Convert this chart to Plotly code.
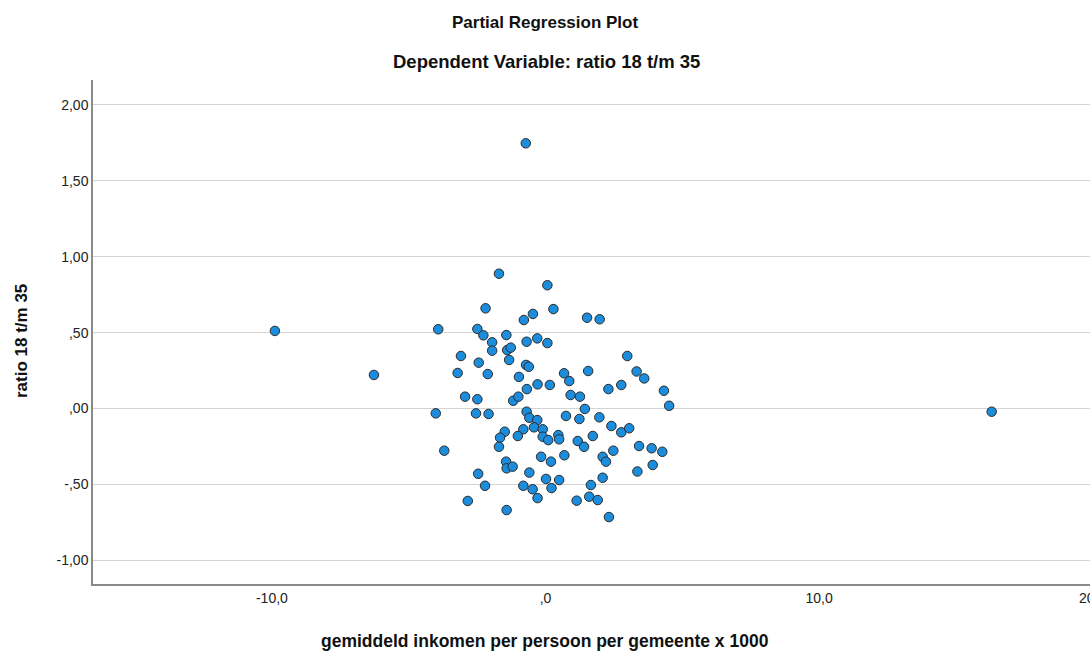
import plotly.graph_objects as go

# Partial regression residuals
income_resid = [
    -0.72, -1.70, 0.07, -2.19, 0.29, -0.79, -0.46, 1.52, 1.98, -9.89,
    -3.92, -2.49, -2.27, -1.43, -1.95, -0.69, -0.30, 0.07, -1.95, -1.40,
    -1.27, -1.33, -3.09, 2.99, -2.44, -0.71, -0.61, -3.21, -2.11, -0.97,
    0.68, 1.56, 3.33, 3.61, 0.87, -6.27, -0.68, -0.29, 0.16, 2.30,
    2.77, 4.33, -2.94, -2.49, -1.18, -0.99, 0.92, 1.26, 4.52, 1.44,
    -4.01, -2.54, -2.08, -0.69, -0.59, -0.30, 0.75, 1.24, 1.97, 16.31,
    -1.49, -1.66, -0.81, -0.42, -0.10, -1.01, -0.10, 0.10, 0.47, 0.50,
    1.18, 1.41, 1.73, 2.41, 2.77, 3.06, -1.70, -3.70, -0.16, 0.20,
    0.69, -1.44, -1.42, -1.20, -0.59, -2.46, -2.21, -0.81, -0.47, -0.29,
    0.02, 0.22, 0.50, -2.84, -1.42, 1.14, 1.60, 1.91, 1.66, 2.09,
    2.32, 3.36, 2.48, 2.09, 2.21, 3.42, 3.88, 4.27, 3.92,
]
ratio_resid = [
    1.747, 0.888, 0.812, 0.660, 0.655, 0.583, 0.623, 0.598, 0.588, 0.511,
    0.522, 0.524, 0.482, 0.484, 0.436, 0.440, 0.462, 0.431, 0.381, 0.385,
    0.401, 0.320, 0.346, 0.346, 0.302, 0.287, 0.275, 0.234, 0.227, 0.208,
    0.232, 0.247, 0.244, 0.198, 0.181, 0.221, 0.128, 0.159, 0.155, 0.128,
    0.155, 0.117, 0.078, 0.061, 0.051, 0.078, 0.089, 0.078, 0.018, -0.003,
    -0.032, -0.032, -0.036, -0.021, -0.061, -0.076, -0.049, -0.069, -0.058, -0.021,
    -0.153, -0.192, -0.137, -0.124, -0.137, -0.181, -0.186, -0.208, -0.175, -0.203,
    -0.214, -0.252, -0.181, -0.115, -0.157, -0.130, -0.252, -0.278, -0.318, -0.350,
    -0.308, -0.350, -0.394, -0.383, -0.422, -0.430, -0.509, -0.509, -0.532, -0.590,
    -0.464, -0.524, -0.471, -0.609, -0.669, -0.607, -0.581, -0.603, -0.504, -0.456,
    -0.715, -0.415, -0.278, -0.318, -0.350, -0.247, -0.262, -0.285, -0.372,
]

x_tickvals = [-10, 0, 10, 20]
x_ticktext = ["-10,0", ",0", "10,0", "20,0"]
y_tickvals = [2.0, 1.5, 1.0, 0.5, 0.0, -0.5, -1.0]
y_ticktext = ["2,00", "1,50", "1,00", ",50", ",00", "-,50", "-1,00"]

title_main = "Partial Regression Plot"
title_sub = "Dependent Variable: ratio 18 t/m 35"
x_title = "gemiddeld inkomen per persoon per gemeente x 1000"
y_title = "ratio 18 t/m 35"

FONT = "Liberation Sans, Arial, sans-serif"

# figure geometry in page pixels (body margin removed below);
# the plot runs slightly past the window's right edge, as in the reference
W, H = 1100, 661
ML, MR, MT, MB = 93, 0, 80, 77
PW, PH = W - ML - MR, H - MT - MB


def px(xf):
    return (xf - ML) / PW


def py(yf):
    return (H - MB - yf) / PH


fig = go.Figure()
fig.add_trace(go.Scatter(
    x=income_resid, y=ratio_resid, mode="markers",
    marker=dict(size=9.5, color="#1c8ddc", line=dict(color="#2b2b2b", width=1)),
    hoverinfo="x+y", showlegend=False,
))


def tfont(size):
    return dict(family=FONT, size=size, color="#111111")


fig.update_layout(
    width=W, height=H,
    margin=dict(l=ML, r=MR, t=MT, b=MB, autoexpand=False),
    paper_bgcolor="white", plot_bgcolor="white",
    font=dict(family=FONT, size=14, color="#222222"),
    xaxis=dict(
        range=[-16.54, 20.27], tickvals=x_tickvals, ticktext=x_ticktext,
        showgrid=False, zeroline=False, showline=True, linecolor="#8a8a8a",
        linewidth=1.5, ticks="", tickfont=dict(size=14, color="#222222"),
        fixedrange=True, automargin=False, ticklabeloverflow="allow",
    ),
    yaxis=dict(
        range=[-1.156, 2.164], tickvals=y_tickvals, ticktext=y_ticktext,
        showgrid=True, gridcolor="#d3d3d3", gridwidth=1, zeroline=False,
        showline=True, linecolor="#8a8a8a", linewidth=1.5, ticks="",
        tickfont=dict(size=14, color="#222222"), fixedrange=True, automargin=False,
    ),
    annotations=[
        dict(text="<b>" + title_main + "</b>", x=px(545), y=py(23), xref="paper", yref="paper",
             xanchor="center", yanchor="middle", showarrow=False, font=tfont(17)),
        dict(text="<b>" + title_sub + "</b>", x=px(546), y=py(62), xref="paper", yref="paper",
             xanchor="center", yanchor="middle", showarrow=False, font=tfont(18.5)),
        dict(text="<b>" + x_title + "</b>", x=px(545), y=py(641), xref="paper", yref="paper",
             xanchor="center", yanchor="middle", showarrow=False, font=tfont(17.5)),
        dict(text="<b>" + y_title + "</b>", x=px(22), y=py(341), xref="paper", yref="paper",
             xanchor="center", yanchor="middle", showarrow=False, textangle=-90,
             font=tfont(17)),
    ],
)

fig.write_html(
    "out.html",
    config={"displayModeBar": False},
    post_script="document.body.style.margin='0';document.body.style.overflow='hidden';",
)
